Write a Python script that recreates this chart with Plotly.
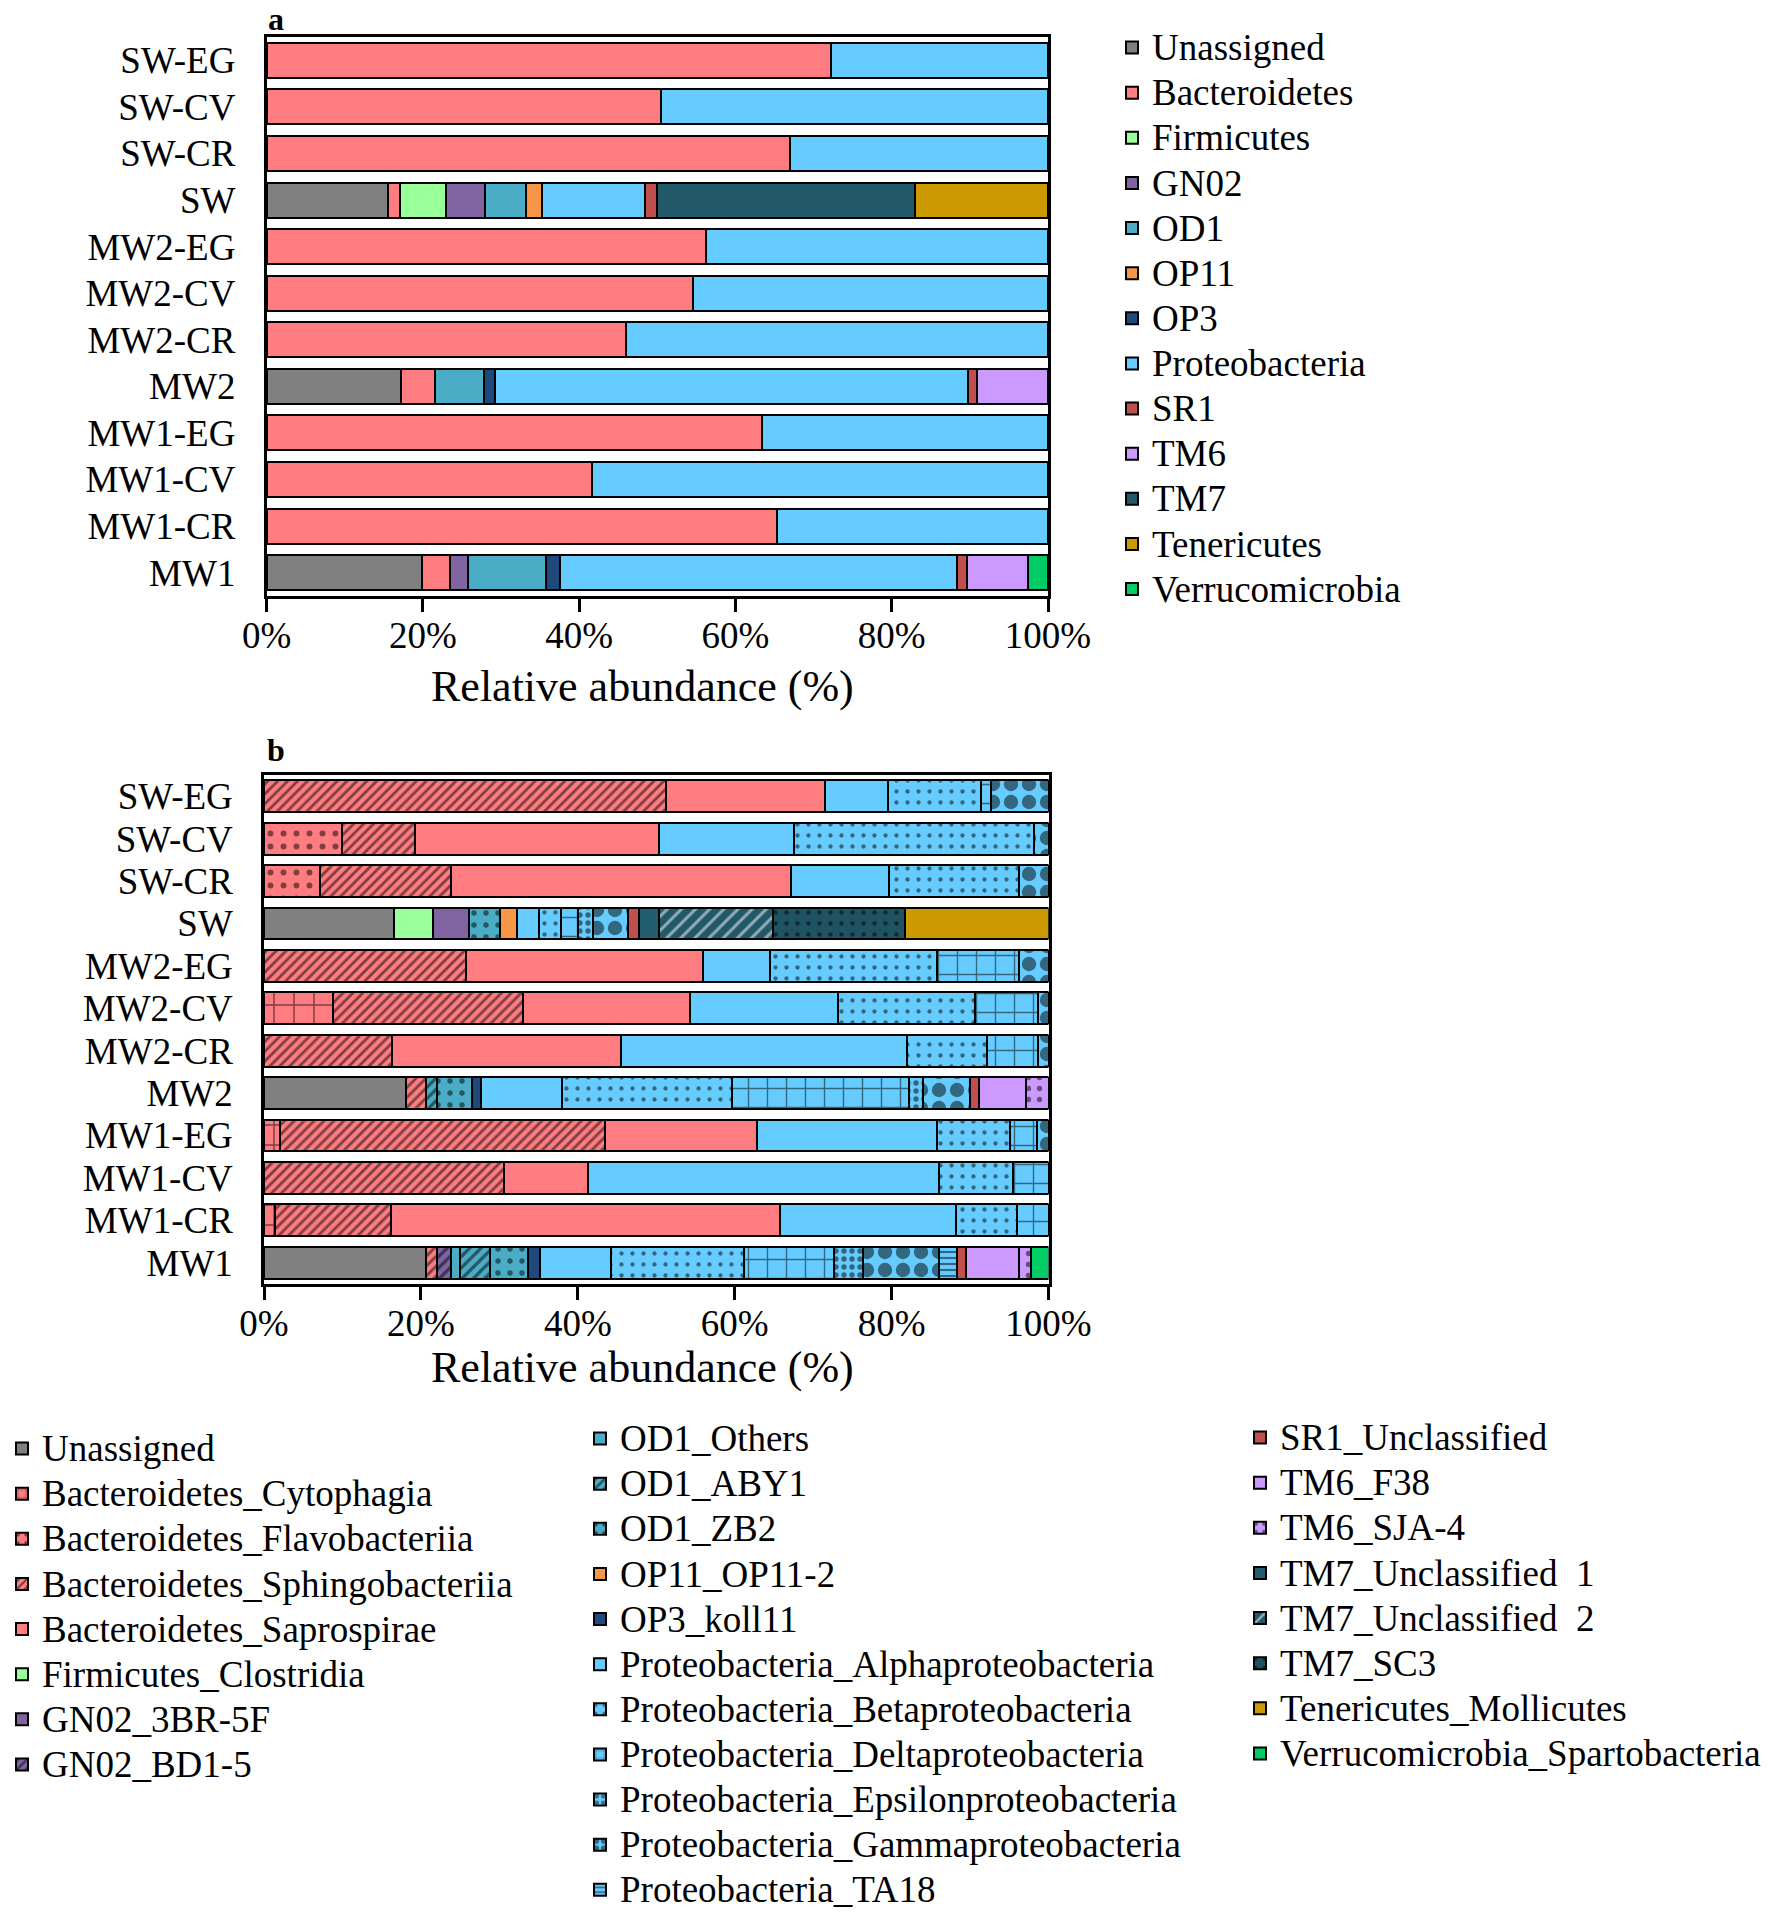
import plotly.graph_objects as go

W, H = 1772, 1918

samples = ["SW-EG", "SW-CV", "SW-CR", "SW", "MW2-EG", "MW2-CV", "MW2-CR", "MW2",
           "MW1-EG", "MW1-CV", "MW1-CR", "MW1"]
x_ticks = [0, 20, 40, 60, 80, 100]
x_ticklabels = ["0%", "20%", "40%", "60%", "80%", "100%"]

# ---------------- Panel a : phylum level (%) ----------------
phyla = ["Unassigned", "Bacteroidetes", "Firmicutes", "GN02", "OD1", "OP11", "OP3",
         "Proteobacteria", "SR1", "TM6", "TM7", "Tenericutes", "Verrucomicrobia"]
phyla_colors = ["#808080", "#FF7C80", "#99FF99", "#8064A2", "#4BACC6", "#F79646", "#1F497D",
                "#66CCFF", "#C0504D", "#CC99FF", "#215968", "#CC9900", "#00CC66"]
a_unassigned = [0, 0, 0, 15.5, 0, 0, 0, 17.2, 0, 0, 0, 19.9]
a_bacteroidetes = [72.2, 50.5, 67.0, 1.6, 56.2, 54.6, 46.0, 4.4, 63.4, 41.6, 65.3, 3.6]
a_firmicutes = [0, 0, 0, 5.9, 0, 0, 0, 0, 0, 0, 0, 0]
a_gn02 = [0, 0, 0, 5.0, 0, 0, 0, 0, 0, 0, 0, 2.3]
a_od1 = [0, 0, 0, 5.2, 0, 0, 0, 6.2, 0, 0, 0, 9.9]
a_op11 = [0, 0, 0, 2.1, 0, 0, 0, 0, 0, 0, 0, 0]
a_op3 = [0, 0, 0, 0, 0, 0, 0, 1.4, 0, 0, 0, 1.8]
a_proteobacteria = [27.8, 49.5, 33.0, 13.1, 43.8, 45.4, 54.0, 60.6, 36.6, 58.4, 34.7, 50.8]
a_sr1 = [0, 0, 0, 1.6, 0, 0, 0, 1.1, 0, 0, 0, 1.3]
a_tm6 = [0, 0, 0, 0, 0, 0, 0, 9.1, 0, 0, 0, 7.8]
a_tm7 = [0, 0, 0, 33.0, 0, 0, 0, 0, 0, 0, 0, 0]
a_tenericutes = [0, 0, 0, 17.0, 0, 0, 0, 0, 0, 0, 0, 0]
a_verruco = [0, 0, 0, 0, 0, 0, 0, 0, 0, 0, 0, 2.6]
a_values = [a_unassigned, a_bacteroidetes, a_firmicutes, a_gn02, a_od1, a_op11, a_op3,
            a_proteobacteria, a_sr1, a_tm6, a_tm7, a_tenericutes, a_verruco]

# ---------------- Panel b : class level (%) ----------------
classes = ["Unassigned", "Bacteroidetes_Cytophagia", "Bacteroidetes_Flavobacteriia",
           "Bacteroidetes_Sphingobacteriia", "Bacteroidetes_Saprospirae", "Firmicutes_Clostridia",
           "GN02_3BR-5F", "GN02_BD1-5",
           "OD1_Others", "OD1_ABY1", "OD1_ZB2", "OP11_OP11-2", "OP3_koll11",
           "Proteobacteria_Alphaproteobacteria", "Proteobacteria_Betaproteobacteria",
           "Proteobacteria_Deltaproteobacteria", "Proteobacteria_Epsilonproteobacteria",
           "Proteobacteria_Gammaproteobacteria", "Proteobacteria_TA18",
           "SR1_Unclassified", "TM6_F38", "TM6_SJA-4", "TM7_Unclassified  1",
           "TM7_Unclassified  2", "TM7_SC3", "Tenericutes_Mollicutes",
           "Verrucomicrobia_Spartobacteria"]
b_unassigned = [0, 0, 0, 16.6, 0, 0, 0, 18.1, 0, 0, 0, 20.7]
b_cytophagia = [0, 0, 0, 0, 0, 8.8, 0, 0, 2.0, 0, 1.4, 0]
b_flavo = [0, 9.9, 7.2, 0, 0, 0, 0, 0, 0, 0, 0, 0]
b_sphingo = [51.2, 9.4, 16.6, 0, 25.7, 24.2, 16.3, 2.5, 41.5, 30.6, 14.8, 1.3]
b_sapro = [20.3, 31.1, 43.4, 0, 30.3, 21.3, 29.2, 0, 19.4, 10.7, 49.6, 0]
b_clostridia = [0, 0, 0, 4.9, 0, 0, 0, 0, 0, 0, 0, 0]
b_3br5f = [0, 0, 0, 4.6, 0, 0, 0, 0, 0, 0, 0, 0]
b_bd15 = [0, 0, 0, 0, 0, 0, 0, 0, 0, 0, 0, 1.8]
b_od1_others = [0, 0, 0, 0, 0, 0, 0, 0, 0, 0, 0, 1.2]
b_aby1 = [0, 0, 0, 0, 0, 0, 0, 1.5, 0, 0, 0, 3.8]
b_zb2 = [0, 0, 0, 4.0, 0, 0, 0, 4.4, 0, 0, 0, 4.8]
b_op11 = [0, 0, 0, 2.2, 0, 0, 0, 0, 0, 0, 0, 0]
b_koll11 = [0, 0, 0, 0, 0, 0, 0, 1.2, 0, 0, 0, 1.6]
b_alpha = [8.0, 17.1, 12.5, 2.8, 8.5, 18.9, 36.5, 10.3, 22.9, 44.7, 22.4, 9.0]
b_beta = [11.9, 30.7, 16.6, 2.8, 21.3, 17.4, 10.2, 21.6, 9.3, 9.5, 7.8, 17.0]
b_delta = [1.3, 0, 0, 2.1, 10.4, 8.1, 6.5, 22.6, 3.4, 4.5, 4.0, 11.5]
b_epsilon = [0, 0, 0, 1.9, 0, 0, 0, 1.8, 0, 0, 0, 3.6]
b_gamma = [7.3, 1.8, 3.7, 4.5, 3.8, 1.3, 1.3, 6.0, 1.5, 0, 0, 9.8]
b_ta18 = [0, 0, 0, 0, 0, 0, 0, 0, 0, 0, 0, 2.2]
b_sr1 = [0, 0, 0, 1.4, 0, 0, 0, 1.1, 0, 0, 0, 1.2]
b_f38 = [0, 0, 0, 0, 0, 0, 0, 6.0, 0, 0, 0, 6.8]
b_sja4 = [0, 0, 0, 0, 0, 0, 0, 2.9, 0, 0, 0, 1.5]
b_tm7_u1 = [0, 0, 0, 2.5, 0, 0, 0, 0, 0, 0, 0, 0]
b_tm7_u2 = [0, 0, 0, 14.6, 0, 0, 0, 0, 0, 0, 0, 0]
b_sc3 = [0, 0, 0, 16.8, 0, 0, 0, 0, 0, 0, 0, 0]
b_mollicutes = [0, 0, 0, 18.3, 0, 0, 0, 0, 0, 0, 0, 0]
b_sparto = [0, 0, 0, 0, 0, 0, 0, 0, 0, 0, 0, 2.2]
b_values = [b_unassigned, b_cytophagia, b_flavo, b_sphingo, b_sapro, b_clostridia, b_3br5f,
            b_bd15, b_od1_others, b_aby1, b_zb2, b_op11, b_koll11, b_alpha, b_beta, b_delta,
            b_epsilon, b_gamma, b_ta18, b_sr1, b_f38, b_sja4, b_tm7_u1, b_tm7_u2, b_sc3,
            b_mollicutes, b_sparto]
class_colors = ["#808080", "#FF7C80", "#FF7C80", "#FF7C80", "#FF7C80", "#99FF99",
                "#8064A2", "#8064A2", "#4BACC6", "#4BACC6", "#4BACC6", "#F79646", "#1F497D",
                "#66CCFF", "#66CCFF", "#66CCFF", "#66CCFF", "#66CCFF", "#66CCFF",
                "#C0504D", "#CC99FF", "#CC99FF", "#235E6E", "#215968", "#1F5262",
                "#CC9900", "#00CC66"]
# (shape, size, solidity, foreground)
class_patterns = [None, ("+", 20, 0.14, "black"), (".", 13, 0.16, "black"),
                  ("/", 7, 0.4, "black"), None, None, None, ("/", 8, 0.4, "black"),
                  None, ("/", 8, 0.4, "black"), (".", 12, 0.16, "black"), None, None,
                  None, (".", 11, 0.12, "black"), ("+", 19, 0.14, "black"),
                  (".", 8, 0.35, "black"), (".", 18, 0.5, "black"), ("-", 6, 0.35, "black"),
                  None, None, (".", 11, 0.18, "black"), None, ("/", 10, 0.3, "white"),
                  (".", 11, 0.12, "black"), None, None]
legend_cols = ["legend2"] * 8 + ["legend3"] * 11 + ["legend4"] * 8

FONT = "Liberation Serif, Times New Roman, serif"
LEG_TXT = "<span style='font-size:37px'>{}</span>"

fig = go.Figure()

for name, vals, col in zip(phyla, a_values, phyla_colors):
    fig.add_trace(go.Bar(y=samples, x=vals, orientation="h", name=LEG_TXT.format(name),
                         marker=dict(color=col, line=dict(color="black", width=2)),
                         xaxis="x", yaxis="y", legend="legend"))

for name, vals, col, pat, lg in zip(classes, b_values, class_colors, class_patterns, legend_cols):
    marker = dict(color=col, line=dict(color="black", width=2))
    if pat is not None:
        marker["pattern"] = dict(shape=pat[0], size=pat[1], solidity=pat[2],
                                 fgcolor=pat[3], fillmode="overlay")
    fig.add_trace(go.Bar(y=samples, x=vals, orientation="h", name=LEG_TXT.format(name),
                         marker=marker, xaxis="x2", yaxis="y2", legend=lg))


def px_x(v):
    return v / W


def px_y(v):
    return 1 - v / H


axis_common = dict(showline=True, linecolor="black", linewidth=2.5, mirror=True,
                   showgrid=False, zeroline=False, automargin=False,
                   tickfont=dict(size=37, color="black", family=FONT))
xcommon = dict(axis_common, range=[0, 100], tickmode="array", tickvals=x_ticks,
               ticktext=x_ticklabels, ticks="outside", ticklen=13, tickwidth=2.5,
               tickcolor="black", ticklabelstandoff=-8)
ycommon = dict(axis_common, type="category", range=[11.5, -0.5], ticks="",
               tickmode="array", tickvals=samples, ticktext=samples,
               ticklabelstandoff=21)

legend_common = dict(bgcolor="rgba(0,0,0,0)", borderwidth=0, traceorder="normal",
                     tracegroupgap=0, xanchor="left", yanchor="top",
                     font=dict(size=32.4, color="black", family=FONT))

fig.update_layout(
    template="none",
    width=W, height=H, margin=dict(l=0, r=0, t=0, b=0, pad=0), autosize=False,
    paper_bgcolor="white", plot_bgcolor="white",
    barmode="stack", bargap=0.25,
    font=dict(family=FONT, color="black"),
    xaxis=dict(xcommon, domain=[px_x(266.6), px_x(1048)], anchor="y"),
    yaxis=dict(ycommon, domain=[px_y(596), px_y(37)], anchor="x"),
    xaxis2=dict(xcommon, domain=[px_x(264), px_x(1048.5)], anchor="y2"),
    yaxis2=dict(ycommon, domain=[px_y(1284), px_y(775)], anchor="x2"),
    legend=dict(legend_common, x=px_x(1112), y=px_y(20)),
    legend2=dict(legend_common, x=px_x(2), y=px_y(1421)),
    legend3=dict(legend_common, x=px_x(580), y=px_y(1411)),
    legend4=dict(legend_common, x=px_x(1240), y=px_y(1410)),
    showlegend=True,
    annotations=[
        dict(text="<b>a</b>", x=px_x(276), y=px_y(19), xref="paper", yref="paper",
             xanchor="center", yanchor="middle", showarrow=False,
             font=dict(size=32, family=FONT)),
        dict(text="<b>b</b>", x=px_x(276), y=px_y(750), xref="paper", yref="paper",
             xanchor="center", yanchor="middle", showarrow=False,
             font=dict(size=32, family=FONT)),
        dict(text="Relative abundance (%)", x=px_x(642), y=px_y(687), xref="paper",
             yref="paper", xanchor="center", yanchor="middle", showarrow=False,
             font=dict(size=44, family=FONT)),
        dict(text="Relative abundance (%)", x=px_x(642), y=px_y(1367), xref="paper",
             yref="paper", xanchor="center", yanchor="middle", showarrow=False,
             font=dict(size=44, family=FONT)),
    ],
)

fig.write_html("out.html", config={"displayModeBar": False},
               post_script="document.body.style.margin='0px';document.body.style.overflow='hidden';")
